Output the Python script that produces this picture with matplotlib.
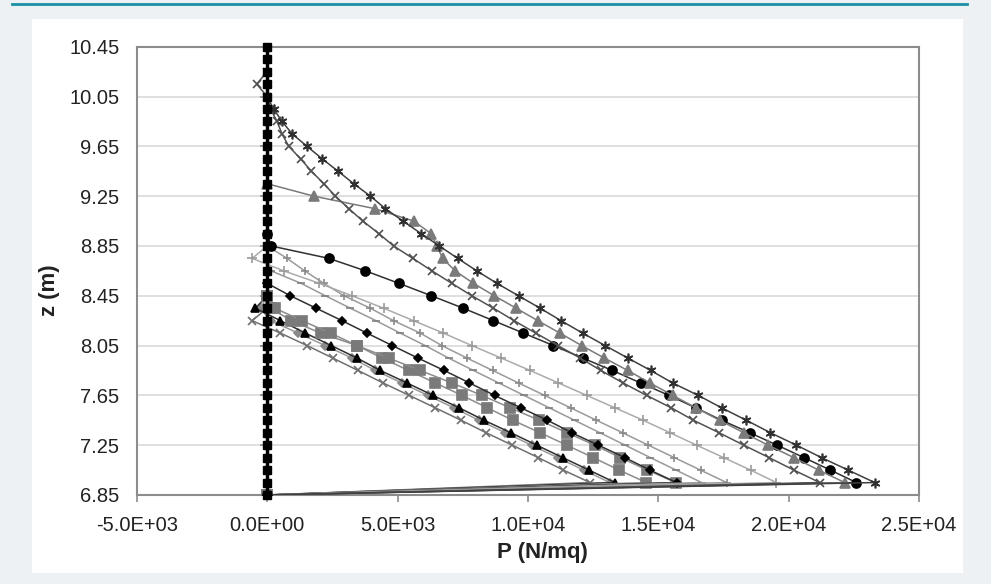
import numpy as np
import matplotlib.pyplot as plt
from matplotlib.patches import Rectangle
from matplotlib.lines import Line2D
from matplotlib.ticker import FuncFormatter

plt.rcParams['font.family'] = ['Liberation Sans', 'DejaVu Sans']

# quote z (m), one reading every 10 cm
z = [10.45, 10.35, 10.25, 10.15, 10.05, 9.95, 9.85, 9.75, 9.65, 9.55, 9.45,
     9.35, 9.25, 9.15, 9.05, 8.95, 8.85, 8.75, 8.65, 8.55, 8.45, 8.35, 8.25,
     8.15, 8.05, 7.95, 7.85, 7.75, 7.65, 7.55, 7.45, 7.35, 7.25, 7.15, 7.05,
     6.95, 6.85]

# pressioni P (N/mq), ogni profilo parte dalla sua quota e arriva a 6.85
p_zero = [0] * 37
p_star = [0, 0, 250, 570, 960, 1530, 2110, 2720, 3320, 3960, 4530, 5210, 5900,
          6600, 7310, 8040, 8810, 9640, 10470, 11270, 12100, 12960, 13830,
          14710, 15550, 16530, 17430, 18380, 19300, 20300, 21260, 22280, 23300, 0]
p_cross = [0, -400, 0, 130, 380, 570, 830, 1280, 1700, 2170, 2620, 3130, 3670,
           4280, 4850, 5590, 6320, 7080, 7850, 8680, 9470, 10300, 11150, 12000,
           12800, 13650, 14550, 15500, 16350, 17330, 18280, 19250, 20200, 21190, 0]
p_tri_gray = [0, 1790, 4120, 5620, 6280, 6510, 6730, 7210, 7910, 8710, 9550,
              10380, 11230, 12060, 12930, 13830, 14680, 15550, 16450, 17350,
              18280, 19210, 20200, 21150, 22150, 0]
p_circle = [0, 150, 2370, 3770, 5050, 6300, 7520, 8680, 9830, 10980, 12100,
            13240, 14320, 15410, 16440, 17430, 18510, 19560, 20590, 21600, 22600, 0]
p_plus_light = [0, -575, 636, 2000, 3255, 4466, 5615, 6763, 7850, 8973, 10084,
                11170, 12255, 13340, 14420, 15450, 16470, 17510, 18540, 19530, 0]
p_plus = [0, 766, 1440, 2170, 2950, 3956, 4849, 5871, 6700, 7660, 8650, 9640,
          10640, 11640, 12630, 13630, 14620, 15620, 16620, 17620, 0]
p_dash = [0, 150, 1300, 2233, 3190, 4174, 5105, 6063, 6955, 7913, 8880, 9850,
          10820, 11790, 12760, 13730, 14700, 15680, 16660, 0]
p_diamond = [0, 890, 1880, 2870, 3830, 4800, 5780, 6790, 7760, 8720, 9730,
             10750, 11680, 12700, 13720, 14680, 15700, 0]
p_sq2 = [0, 300, 1340, 2430, 3450, 4657, 5870, 7084, 8237, 9320, 10440, 11500,
         12560, 13550, 14580, 15670, 0]
p_sq1 = [0, 130, 930, 2050, 3447, 4404, 5424, 6446, 7468, 8450, 9420, 10470,
         11490, 12510, 13500, 14540, 0]
p_tri_black = [0, -450, 510, 1470, 2460, 3447, 4340, 5362, 6360, 7365, 8323,
               9345, 10340, 11337, 12344, 13340, 0]
p_diam_gray = [0, -250, 130, 1190, 2230, 3250, 4150, 5160, 6160, 7160, 8120,
               9140, 10140, 11140, 12140, 13140, 0]
p_cross_low = [0, -575, 510, 1532, 2514, 3486, 4443, 5450, 6446, 7440, 8400,
               9400, 10400, 11360, 12380, 0]

y_ticks = [6.85, 7.25, 7.65, 8.05, 8.45, 8.85, 9.25, 9.65, 10.05, 10.45]
x_ticks = [-5000, 0, 5000, 10000, 15000, 20000, 25000]

# stile: (dati, marker, colore linea, colore marker, dimensione)
series = [
    (p_cross_low, 'x', '#707070', '#707070', 6),
    (p_diam_gray, 'D', '#9a9a9a', '#8a8a8a', 4),
    (p_tri_black, '^', '#303030', '#000000', 6),
    (p_sq1, 's', '#8c8c8c', '#7a7a7a', 6.5),
    (p_sq2, 's', '#8c8c8c', '#7a7a7a', 6.5),
    (p_diamond, 'D', '#303030', '#000000', 4.5),
    (p_dash, '_', '#9a9a9a', '#7f7f7f', 6),
    (p_plus, '+', '#9a9a9a', '#8a8a8a', 6),
    (p_plus_light, '+', '#ababab', '#9a9a9a', 7),
    (p_circle, 'o', '#303030', '#000000', 6.5),
    (p_tri_gray, '^', '#7a7a7a', '#7a7a7a', 6.5),
    (p_cross, 'x', '#505050', '#505050', 6),
    (p_star, (6, 2, 0), '#404040', '#303030', 7),
]

fig = plt.figure(figsize=(9.91, 5.84), dpi=100, facecolor='#edf1f4')
fig.patches.append(Rectangle((32 / 991, 11 / 584), 931 / 991, 554 / 584,
                             transform=fig.transFigure, facecolor='white',
                             edgecolor='none', zorder=-5))
fig.lines.append(Line2D([12 / 991, 967 / 991], [1 - 4 / 584, 1 - 4 / 584],
                        transform=fig.transFigure, color='#1b8fa6', lw=2,
                        zorder=-5))

ax = fig.add_axes([0.138, 0.1524, 0.7894, 0.7676])
ax.set_facecolor('white')

ax.axvline(0, color='#8c8c8c', lw=1.2, zorder=1.5)
ax.plot(np.zeros(len(y_ticks)), y_ticks, ls='none', marker=0, ms=5,
        mec='#8c8c8c', mew=1.2, zorder=1.5)

for vals, mk, lc, mc, ms in series:
    zz = z[-len(vals):]
    ax.plot(vals, zz, color=lc, lw=1.1, marker=mk, ms=ms, mfc=mc, mec=mc,
            mew=1.2, zorder=3)

ax.plot(p_zero, z, color='black', lw=2.5, marker='s', ms=5.5, mfc='black',
        mec='black', zorder=4, clip_on=False)

ax.set_xlim(-5000, 25000)
ax.set_ylim(6.85, 10.45)
ax.set_xticks(x_ticks)
ax.set_yticks(y_ticks)
ax.xaxis.set_major_formatter(FuncFormatter(lambda v, pos: '{:.1E}'.format(v)))
ax.yaxis.set_major_formatter(FuncFormatter(lambda v, pos: '{:.2f}'.format(v)))

ax.yaxis.grid(True, color='#d9d9d9', lw=1.2)
ax.set_axisbelow(True)
for s in ax.spines.values():
    s.set_color('#8c8c8c')
    s.set_linewidth(1.5)

ax.tick_params(axis='y', length=0, pad=12.5, labelsize=14.5, labelcolor='#222222')
ax.tick_params(axis='x', length=5, width=1.2, color='#8c8c8c', direction='out',
               pad=10, labelsize=14.5, labelcolor='#222222')

ax.set_xlabel('P (N/mq)', fontsize=16, fontweight='bold', color='#222222')
ax.xaxis.set_label_coords(0.518, -0.129)
ax.xaxis.label.set_verticalalignment('center')
ax.set_ylabel('z (m)', fontsize=16, fontweight='bold', color='#222222')
ax.yaxis.set_label_coords(-0.111, 0.457)
ax.yaxis.label.set_verticalalignment('center')

fig.savefig('out.png', dpi=100, facecolor=fig.get_facecolor())
